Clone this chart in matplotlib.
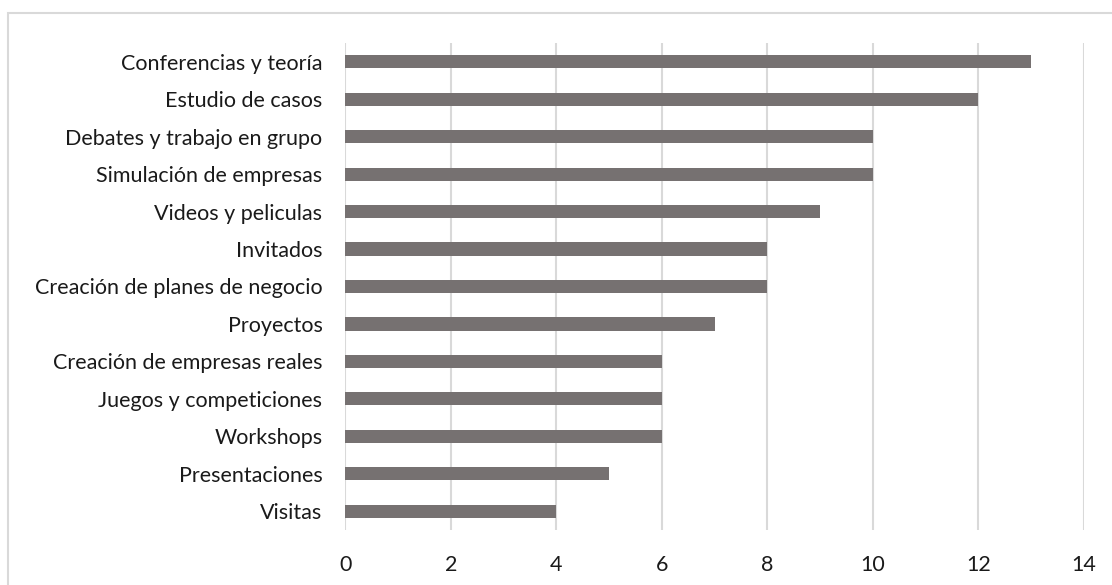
import matplotlib
matplotlib.use("Agg")
import matplotlib.pyplot as plt
from matplotlib.patches import Rectangle

categories = [
    "Conferencias y teoría",
    "Estudio de casos",
    "Debates y trabajo en grupo",
    "Simulación de empresas",
    "Videos y peliculas",
    "Invitados",
    "Creación de planes de negocio",
    "Proyectos",
    "Creación de empresas reales",
    "Juegos y competiciones",
    "Workshops",
    "Presentaciones",
    "Visitas",
]
values = [13, 12, 10, 10, 9, 8, 8, 7, 6, 6, 6, 5, 4]
xticks = [0, 2, 4, 6, 8, 10, 12, 14]

bar_color = "#767171"
grid_color = "#d9d9d9"
text_color = "#1a1a1a"

plt.rcParams["font.family"] = ["Lato", "DejaVu Sans"]

W, H = 1112, 585
fig = plt.figure(figsize=(W / 100, H / 100), dpi=100)
fig.patch.set_facecolor("white")

# light outer frame (top and left edges visible)
fig.add_artist(Rectangle((8 / W, -0.1), 1.2, 1.1 - 13 / H,
                         transform=fig.transFigure, fill=False,
                         edgecolor=grid_color, linewidth=1.5))

ax = fig.add_axes([345.3 / W, 55 / H, (1083.7 - 345.3) / W, (530 - 43) / H])

n = len(categories)
ypos = list(range(n))[::-1]
ax.barh(ypos, values, height=0.35, color=bar_color, zorder=3)

ax.set_xlim(0, 14)
ax.set_ylim(-0.5, n - 0.5)
ax.set_xticks(xticks)
ax.set_xticklabels([str(t) for t in xticks])
ax.set_yticks(ypos)
ax.set_yticklabels(categories)

ax.grid(axis="x", color=grid_color, linewidth=1.5, zorder=0)
ax.grid(axis="y", visible=False)
for s in ax.spines.values():
    s.set_visible(False)
ax.tick_params(axis="both", length=0, labelsize=15.5, colors=text_color)
ax.tick_params(axis="y", pad=16.5)
ax.tick_params(axis="x", pad=18)

fig.savefig("out.png", dpi=100, facecolor="white")
